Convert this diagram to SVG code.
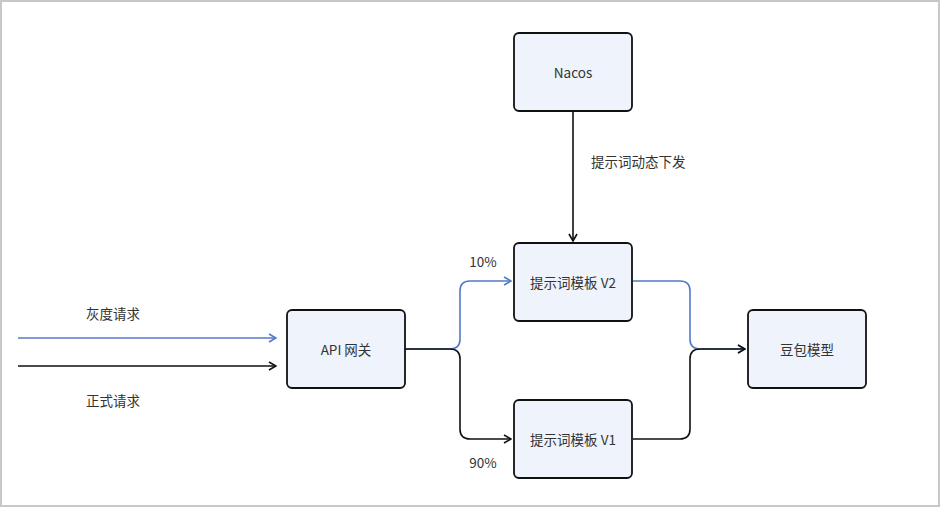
<svg xmlns="http://www.w3.org/2000/svg" width="940" height="507" viewBox="0 0 940 507">
<style>
.node rect{fill:#eef3fc;stroke:#111;stroke-width:1.8}
text{font-family:"Noto Sans CJK SC","Noto Sans",sans-serif;font-size:13.5px;fill:#333}
.c{text-anchor:middle;dominant-baseline:central}
.k{fill:none;stroke:#111;stroke-width:1.6}
.b{fill:none;stroke:#5478c8;stroke-width:1.6}
</style>
<defs>
<marker id="ak" viewBox="0 0 10 10" refX="9" refY="5" markerWidth="10" markerHeight="10" markerUnits="userSpaceOnUse" orient="auto"><path d="M2,1 L9,5 L2,9" fill="none" stroke="#111" stroke-width="1.6"/></marker>
<marker id="ab" viewBox="0 0 10 10" refX="9" refY="5" markerWidth="10" markerHeight="10" markerUnits="userSpaceOnUse" orient="auto"><path d="M2,1 L9,5 L2,9" fill="none" stroke="#5478c8" stroke-width="1.6"/></marker>
</defs>
<rect x="1" y="1" width="938" height="505" fill="#fff" stroke="#c8c8c8" stroke-width="2"/>
<g id="connectors">
<path class="b" d="M18,338 H276" marker-end="url(#ab)"/>
<path class="k" d="M18,366 H276" marker-end="url(#ak)"/>
<path class="b" d="M405,349 H450 Q460,349 460,339 V291 Q460,281 470,281 H511" marker-end="url(#ab)"/>
<path class="b" d="M633,281 H680 Q690,281 690,291 V339 Q690,349 700,349 H745" marker-end="url(#ab)"/>
<path class="k" d="M405,349 H450 Q460,349 460,359 V429 Q460,439 470,439 H511" marker-end="url(#ak)"/>
<path class="k" d="M633,439 H680 Q690,439 690,429 V359 Q690,349 700,349 H745" marker-end="url(#ak)"/>
<path class="k" d="M573,111 V241" marker-end="url(#ak)"/>
</g>
<g id="labels">
<text class="c" x="113" y="313">灰度请求</text>
<text class="c" x="113" y="400">正式请求</text>
<text x="591" y="167">提示词动态下发</text>
<text class="c" x="483" y="261">10%</text>
<text class="c" x="483" y="462">90%</text>
</g>
<g id="nacos" class="node"><rect x="514" y="33" width="118" height="78" rx="5"/><text class="c" x="573" y="72">Nacos</text></g>
<g id="v2" class="node"><rect x="514" y="243" width="118" height="78" rx="5"/><text class="c" x="573" y="282">提示词模板 V2</text></g>
<g id="v1" class="node"><rect x="514" y="400" width="118" height="78" rx="5"/><text class="c" x="573" y="439">提示词模板 V1</text></g>
<g id="api" class="node"><rect x="287" y="310" width="118" height="78" rx="5"/><text class="c" x="346" y="349">API 网关</text></g>
<g id="doubao" class="node"><rect x="748" y="310" width="118" height="78" rx="5"/><text class="c" x="807" y="349">豆包模型</text></g>
</svg>
